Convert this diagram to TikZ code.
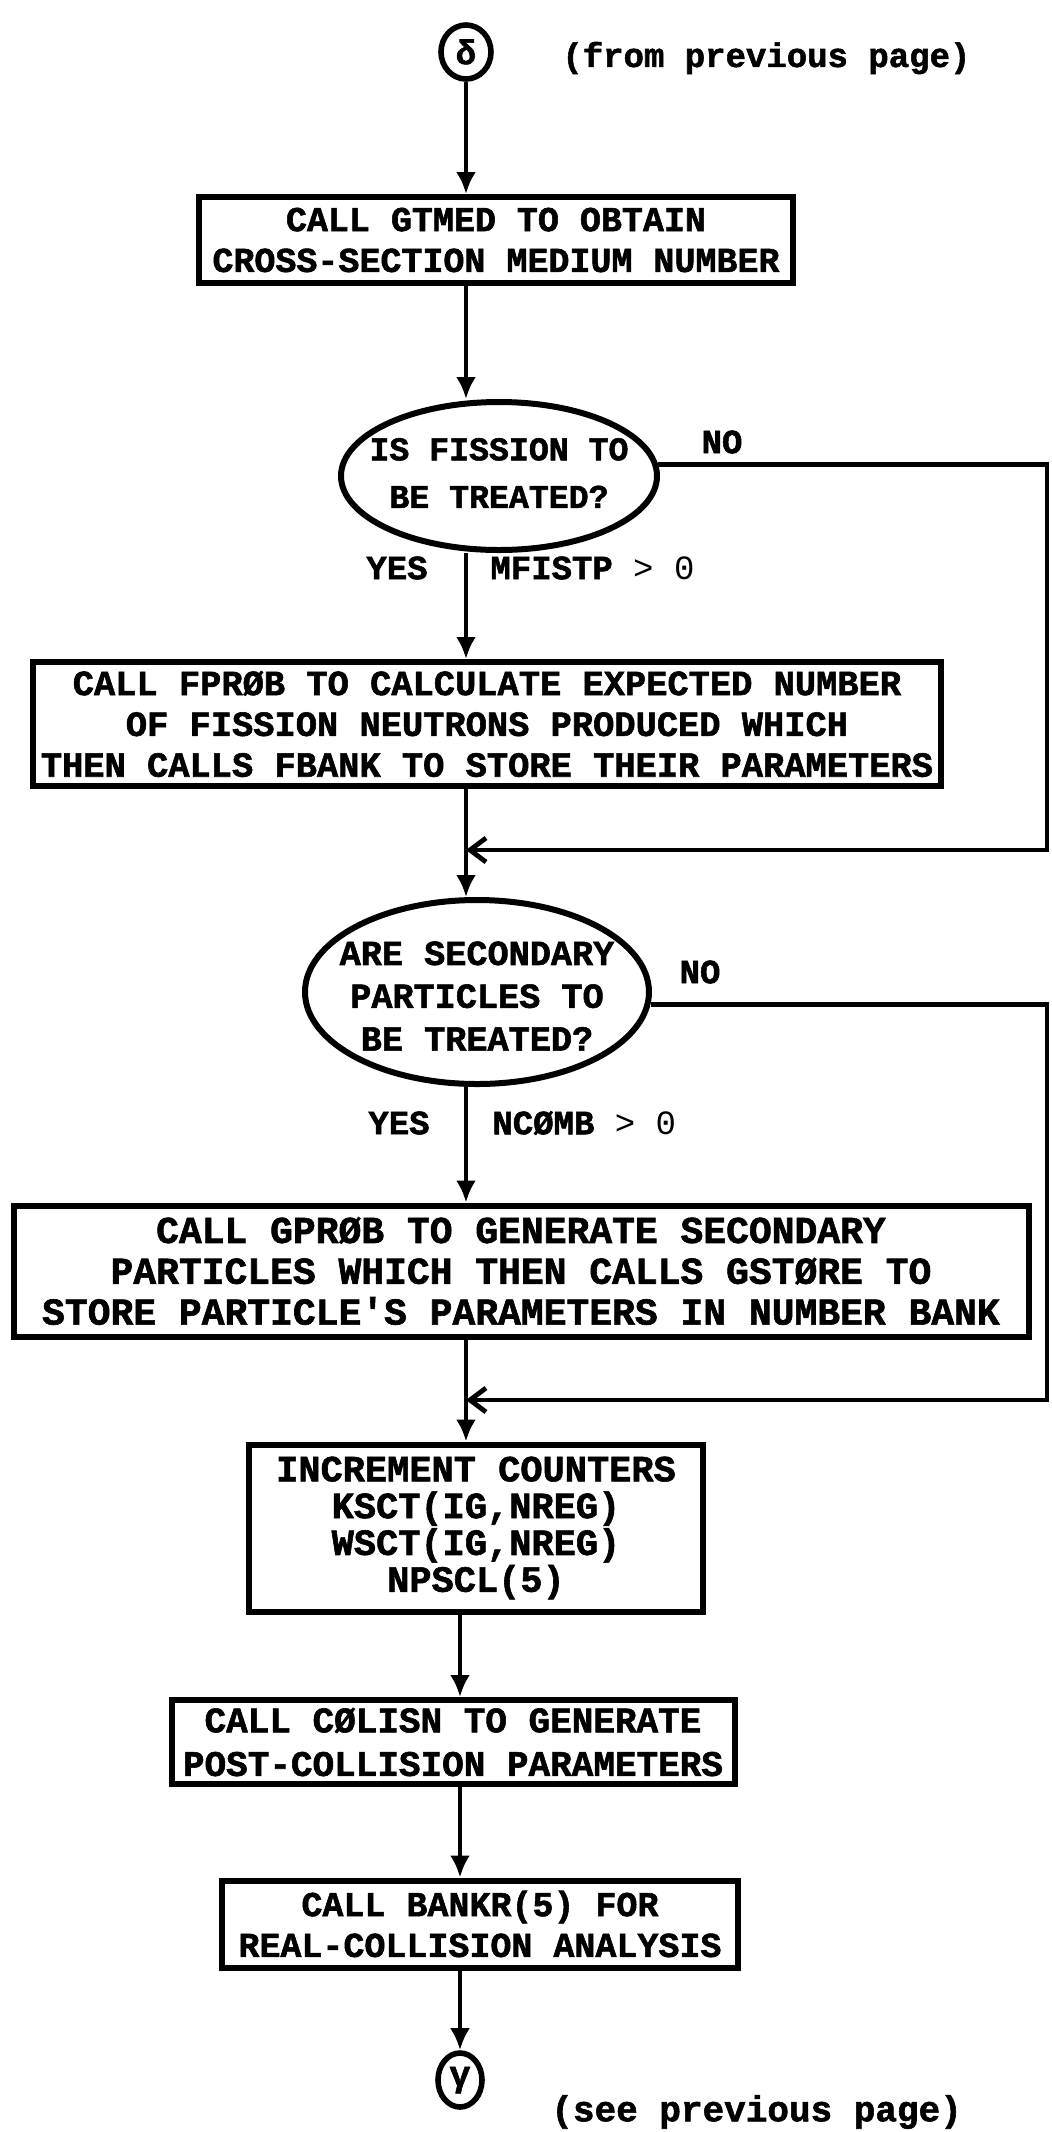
\documentclass[tikz,border=0pt]{standalone}
\usepackage{fontspec}
\setmonofont{Liberation Mono}[BoldFeatures={FakeBold=1.6}]
\usetikzlibrary{shapes.geometric,arrows.meta}
\newcommand\setfs[2]{\fontsize{#1}{#2}\selectfont}
\begin{document}
\begin{tikzpicture}[x=0.5pt,y=-0.5pt,
  every node/.style={font=\ttfamily\bfseries},
  procbox/.style={draw, line width=3pt, rectangle, inner sep=0pt, align=center},
  decision/.style={draw, line width=3pt, ellipse, inner sep=0pt},
  dtext/.style={inner sep=0pt, align=center},
  connector/.style={draw, line width=2.8pt, ellipse, inner sep=0pt},
  lbl/.style={inner sep=0pt},
  flow/.style={line width=2.4pt, -{Latex[length=11pt,width=10pt]}},
  merge/.style={line width=2.4pt, -{Straight Barb[length=8pt,width=12pt]}}
]
\useasboundingbox (0,0) rectangle (1051,2132);

% spine of the main flow
\coordinate (spine) at (466,0);
\coordinate (spineb) at (460,0);

% off-page connector (entry)
\node[connector, minimum width=25pt, minimum height=27pt, font=\ttfamily\bfseries\setfs{17}{17}] (top) at (466,52) {δ};
\node[lbl, anchor=west, font=\ttfamily\bfseries\setfs{17}{20}] (fromlbl) at (562,58) {(from previous page)};

% process boxes and decisions
\node[procbox, minimum width=297pt, minimum height=43pt, font=\ttfamily\bfseries\setfs{17.5}{20.4}] (b1) at (496,240)
  {CALL GTMED TO OBTAIN\\CROSS-SECTION MEDIUM NUMBER};

\node[decision, minimum width=158pt, minimum height=74pt] (e1) at (499,476) {};
\node[dtext, font=\ttfamily\bfseries\setfs{16.6}{23.8}] (e1t) at (499,473) {IS FISSION TO\\BE TREATED?};

\node[procbox, minimum width=454pt, minimum height=62pt, font=\ttfamily\bfseries\setfs{17.7}{20.4}] (b2) at (487,724)
  {CALL FPRØB TO CALCULATE EXPECTED NUMBER\\OF FISSION NEUTRONS PRODUCED WHICH\\THEN CALLS FBANK TO STORE THEIR PARAMETERS};

\node[decision, minimum width=172pt, minimum height=92pt] (e2) at (477,992) {};
\node[dtext, font=\ttfamily\bfseries\setfs{17.6}{21.4}] (e2t) at (477,996) {ARE SECONDARY\\PARTICLES TO\\BE TREATED?};

\node[procbox, minimum width=507.5pt, minimum height=65.5pt, font=\ttfamily\bfseries\setfs{19}{20.4}] (b3) at (521,1271)
  {CALL GPRØB TO GENERATE SECONDARY\\PARTICLES WHICH THEN CALLS GSTØRE TO\\STORE PARTICLE'S PARAMETERS IN NUMBER BANK};

\node[procbox, minimum width=227pt, minimum height=83.5pt, font=\ttfamily\bfseries\setfs{18.5}{18.4}] (b4) at (476,1528)
  {INCREMENT COUNTERS\\KSCT(IG,NREG)\\WSCT(IG,NREG)\\NPSCL(5)};

\node[procbox, minimum width=281.5pt, minimum height=42pt, font=\ttfamily\bfseries\setfs{18}{21.8}] (b5) at (453,1742)
  {CALL CØLISN TO GENERATE\\POST-COLLISION PARAMETERS};

\node[procbox, minimum width=258pt, minimum height=43.5pt, font=\ttfamily\bfseries\setfs{17.5}{20.4}] (b6) at (480,1924)
  {CALL BANKR(5) FOR\\REAL-COLLISION ANALYSIS};

% off-page connector (exit)
\node[connector, minimum width=22pt, minimum height=27pt, font=\ttfamily\bfseries\setfs{18}{18}] (bot) at (460,2080) {γ};
\node[lbl, anchor=west, font=\ttfamily\bfseries\setfs{18}{20}] (seelbl) at (551,2112) {(see previous page)};

% branch labels
\node[lbl, font=\ttfamily\bfseries\setfs{17}{20}] (no1) at (722,442) {NO};
\node[lbl, anchor=east, font=\ttfamily\bfseries\setfs{17}{20}] (yes1) at (428,568) {YES};
\node[lbl, anchor=west, font=\ttfamily\bfseries\setfs{17}{20}] (cond1) at (490,568) {MFISTP \mdseries> 0};

\node[lbl, font=\ttfamily\bfseries\setfs{17}{20}] (no2) at (700,972) {NO};
\node[lbl, anchor=east, font=\ttfamily\bfseries\setfs{17}{20}] (yes2) at (430,1123) {YES};
\node[lbl, anchor=west, font=\ttfamily\bfseries\setfs{17}{20}] (cond2) at (492,1123) {NCØMB \mdseries> 0};

% main flow
\draw[flow] (top) -- (b1.north -| top);
\draw[flow] (b1.south -| spine) -- (e1.north -| spine);
\draw[flow] (e1.south -| spine) -- (b2.north -| spine);
\draw[flow] (b2.south -| spine) -- (e2.north -| spine);
\draw[flow] (e2.south -| spine) -- (b3.north -| spine);
\draw[flow] (b3.south -| spine) -- (b4.north -| spine);
\draw[flow] (b4.south -| spineb) -- (b5.north -| spineb);
\draw[flow] (b5.south -| spineb) -- (b6.north -| spineb);
\draw[flow] (b6.south -| spineb) -- (bot.north);

% bypass branches
\coordinate (r1) at (1047,850);
\coordinate (m1) at (466,850);
\draw[merge] (e1.4) -| (r1) -- (m1);

\coordinate (r2) at (1047,1400);
\coordinate (m2) at (466,1400);
\draw[merge] (e2.-4) -| (r2) -- (m2);
\end{tikzpicture}
\end{document}
